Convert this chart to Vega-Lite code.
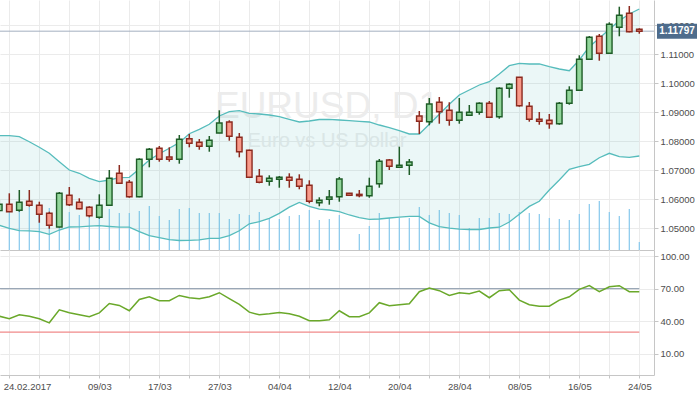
{
  "$schema": "https://vega.github.io/schema/vega-lite/v6.json",
  "background": "white",
  "padding": 0,
  "autosize": {"type": "pad"},
  "spacing": 0,
  "data": {"values": [
    {"d":"2017-02-23","o":1.0561,"h":1.0600,"l":1.0555,"c":1.0583,"v":76000,"up":1.08193,"lo":1.05103,"rsi":44.7},
    {"d":"2017-02-24","o":1.05828,"h":1.06207,"l":1.05560,"c":1.05572,"v":76000,"up":1.08193,"lo":1.05000,"rsi":42.3},
    {"d":"2017-02-27","o":1.05621,"h":1.06321,"l":1.05572,"c":1.05897,"v":80000,"up":1.08159,"lo":1.04917,"rsi":46.0},
    {"d":"2017-02-28","o":1.05931,"h":1.06321,"l":1.05745,"c":1.05793,"v":86000,"up":1.07986,"lo":1.04914,"rsi":44.7},
    {"d":"2017-03-01","o":1.05793,"h":1.05917,"l":1.05193,"c":1.05483,"v":80000,"up":1.07793,"lo":1.04883,"rsi":42.3},
    {"d":"2017-03-02","o":1.05517,"h":1.05572,"l":1.04986,"c":1.05103,"v":84000,"up":1.07586,"lo":1.04793,"rsi":38.6},
    {"d":"2017-03-03","o":1.05045,"h":1.06252,"l":1.05030,"c":1.06207,"v":80000,"up":1.07297,"lo":1.04941,"rsi":50.6},
    {"d":"2017-03-06","o":1.06138,"h":1.06424,"l":1.05769,"c":1.05814,"v":76000,"up":1.07010,"lo":1.05045,"rsi":47.8},
    {"d":"2017-03-07","o":1.05897,"h":1.06034,"l":1.05655,"c":1.05676,"v":70000,"up":1.06897,"lo":1.05052,"rsi":46.0},
    {"d":"2017-03-08","o":1.05724,"h":1.05760,"l":1.05379,"c":1.05434,"v":68000,"up":1.06724,"lo":1.05072,"rsi":44.2},
    {"d":"2017-03-09","o":1.05379,"h":1.06172,"l":1.05331,"c":1.05793,"v":80000,"up":1.06607,"lo":1.05090,"rsi":47.8},
    {"d":"2017-03-10","o":1.05793,"h":1.07010,"l":1.05770,"c":1.06724,"v":82000,"up":1.06666,"lo":1.05062,"rsi":56.4},
    {"d":"2017-03-13","o":1.06897,"h":1.07183,"l":1.06528,"c":1.06552,"v":74000,"up":1.06745,"lo":1.05038,"rsi":54.6},
    {"d":"2017-03-14","o":1.06586,"h":1.06666,"l":1.06055,"c":1.06090,"v":74000,"up":1.06759,"lo":1.05038,"rsi":49.7},
    {"d":"2017-03-15","o":1.06090,"h":1.07414,"l":1.06070,"c":1.07379,"v":78000,"up":1.07045,"lo":1.04883,"rsi":60.1},
    {"d":"2017-03-16","o":1.07379,"h":1.07769,"l":1.07103,"c":1.07724,"v":88000,"up":1.07355,"lo":1.04745,"rsi":62.6},
    {"d":"2017-03-17","o":1.07759,"h":1.07838,"l":1.07297,"c":1.07379,"v":68000,"up":1.07569,"lo":1.04679,"rsi":58.9},
    {"d":"2017-03-20","o":1.07459,"h":1.07793,"l":1.07297,"c":1.07379,"v":60000,"up":1.07759,"lo":1.04610,"rsi":58.9},
    {"d":"2017-03-21","o":1.07379,"h":1.08217,"l":1.07228,"c":1.08069,"v":82000,"up":1.07952,"lo":1.04579,"rsi":63.8},
    {"d":"2017-03-22","o":1.08090,"h":1.08252,"l":1.07793,"c":1.07931,"v":84000,"up":1.08262,"lo":1.04586,"rsi":61.7},
    {"d":"2017-03-23","o":1.07966,"h":1.08079,"l":1.07710,"c":1.07828,"v":74000,"up":1.08414,"lo":1.04603,"rsi":60.8},
    {"d":"2017-03-24","o":1.07828,"h":1.08183,"l":1.07641,"c":1.08034,"v":74000,"up":1.08586,"lo":1.04655,"rsi":62.6},
    {"d":"2017-03-27","o":1.08286,"h":1.09069,"l":1.08280,"c":1.08631,"v":74000,"up":1.08872,"lo":1.04655,"rsi":66.3},
    {"d":"2017-03-28","o":1.08666,"h":1.08724,"l":1.08021,"c":1.08172,"v":62000,"up":1.09021,"lo":1.04748,"rsi":60.8},
    {"d":"2017-03-29","o":1.08138,"h":1.08286,"l":1.07448,"c":1.07641,"v":72000,"up":1.09055,"lo":1.04914,"rsi":55.5},
    {"d":"2017-03-30","o":1.07690,"h":1.07710,"l":1.06740,"c":1.06759,"v":70000,"up":1.08966,"lo":1.05155,"rsi":48.4},
    {"d":"2017-03-31","o":1.06793,"h":1.07045,"l":1.06552,"c":1.06586,"v":76000,"up":1.08941,"lo":1.05228,"rsi":46.0},
    {"d":"2017-04-03","o":1.06621,"h":1.06828,"l":1.06469,"c":1.06724,"v":64000,"up":1.08907,"lo":1.05345,"rsi":46.9},
    {"d":"2017-04-04","o":1.06690,"h":1.06803,"l":1.06400,"c":1.06759,"v":62000,"up":1.08848,"lo":1.05517,"rsi":48.1},
    {"d":"2017-04-05","o":1.06759,"h":1.06897,"l":1.06400,"c":1.06655,"v":68000,"up":1.08759,"lo":1.05728,"rsi":46.9},
    {"d":"2017-04-06","o":1.06690,"h":1.06862,"l":1.06345,"c":1.06448,"v":70000,"up":1.08666,"lo":1.05890,"rsi":44.7},
    {"d":"2017-04-07","o":1.06483,"h":1.06655,"l":1.05862,"c":1.05931,"v":80000,"up":1.08700,"lo":1.05759,"rsi":40.5},
    {"d":"2017-04-10","o":1.05883,"h":1.06069,"l":1.05759,"c":1.05966,"v":60000,"up":1.08752,"lo":1.05659,"rsi":40.5},
    {"d":"2017-04-11","o":1.06000,"h":1.06321,"l":1.05814,"c":1.06079,"v":62000,"up":1.08759,"lo":1.05631,"rsi":41.4},
    {"d":"2017-04-12","o":1.06090,"h":1.06769,"l":1.05917,"c":1.06700,"v":70000,"up":1.08734,"lo":1.05572,"rsi":49.7},
    {"d":"2017-04-13","o":1.06207,"h":1.06220,"l":1.06120,"c":1.06138,"v":0,"up":1.08710,"lo":1.05459,"rsi":44.2},
    {"d":"2017-04-14","o":1.06172,"h":1.06321,"l":1.06069,"c":1.06124,"v":32000,"up":1.08690,"lo":1.05372,"rsi":44.2},
    {"d":"2017-04-17","o":1.06124,"h":1.06745,"l":1.06055,"c":1.06448,"v":48000,"up":1.08666,"lo":1.05310,"rsi":47.8},
    {"d":"2017-04-18","o":1.06538,"h":1.07390,"l":1.06400,"c":1.07310,"v":74000,"up":1.08562,"lo":1.05321,"rsi":57.1},
    {"d":"2017-04-19","o":1.07355,"h":1.07390,"l":1.07010,"c":1.07138,"v":64000,"up":1.08469,"lo":1.05355,"rsi":54.3},
    {"d":"2017-04-20","o":1.07103,"h":1.07814,"l":1.07100,"c":1.07172,"v":64000,"up":1.08366,"lo":1.05383,"rsi":55.2},
    {"d":"2017-04-21","o":1.07172,"h":1.07390,"l":1.06838,"c":1.07286,"v":64000,"up":1.08252,"lo":1.05410,"rsi":56.2},
    {"d":"2017-04-24","o":1.08872,"h":1.09045,"l":1.08252,"c":1.08690,"v":86000,"up":1.08252,"lo":1.05410,"rsi":67.2},
    {"d":"2017-04-25","o":1.08676,"h":1.09493,"l":1.08552,"c":1.09286,"v":70000,"up":1.08586,"lo":1.05190,"rsi":70.6},
    {"d":"2017-04-26","o":1.09345,"h":1.09528,"l":1.08607,"c":1.09021,"v":80000,"up":1.08931,"lo":1.05055,"rsi":68.2},
    {"d":"2017-04-27","o":1.09069,"h":1.09345,"l":1.08538,"c":1.08724,"v":74000,"up":1.09276,"lo":1.05003,"rsi":63.8},
    {"d":"2017-04-28","o":1.08724,"h":1.09493,"l":1.08607,"c":1.09000,"v":70000,"up":1.09597,"lo":1.04969,"rsi":66.3},
    {"d":"2017-05-01","o":1.08897,"h":1.09252,"l":1.08890,"c":1.09000,"v":44000,"up":1.09769,"lo":1.04959,"rsi":65.4},
    {"d":"2017-05-02","o":1.09000,"h":1.09345,"l":1.08917,"c":1.09310,"v":64000,"up":1.09941,"lo":1.04959,"rsi":67.8},
    {"d":"2017-05-03","o":1.09310,"h":1.09390,"l":1.08820,"c":1.08828,"v":64000,"up":1.10055,"lo":1.05010,"rsi":61.7},
    {"d":"2017-05-04","o":1.08848,"h":1.09862,"l":1.08779,"c":1.09828,"v":74000,"up":1.10321,"lo":1.05038,"rsi":68.2},
    {"d":"2017-05-05","o":1.09828,"h":1.10000,"l":1.09503,"c":1.09966,"v":72000,"up":1.10607,"lo":1.05217,"rsi":69.1},
    {"d":"2017-05-08","o":1.10207,"h":1.10210,"l":1.09193,"c":1.09228,"v":76000,"up":1.10690,"lo":1.05486,"rsi":59.5},
    {"d":"2017-05-09","o":1.09207,"h":1.09355,"l":1.08676,"c":1.08759,"v":74000,"up":1.10666,"lo":1.05755,"rsi":55.2},
    {"d":"2017-05-10","o":1.08759,"h":1.09010,"l":1.08572,"c":1.08690,"v":72000,"up":1.10666,"lo":1.05934,"rsi":53.9},
    {"d":"2017-05-11","o":1.08724,"h":1.08941,"l":1.08434,"c":1.08607,"v":64000,"up":1.10572,"lo":1.06321,"rsi":53.9},
    {"d":"2017-05-12","o":1.08607,"h":1.09355,"l":1.08572,"c":1.09310,"v":62000,"up":1.10493,"lo":1.06666,"rsi":59.5},
    {"d":"2017-05-15","o":1.09310,"h":1.09897,"l":1.09262,"c":1.09759,"v":60000,"up":1.10434,"lo":1.07034,"rsi":62.6},
    {"d":"2017-05-16","o":1.09759,"h":1.10966,"l":1.09750,"c":1.10828,"v":72000,"up":1.10803,"lo":1.07124,"rsi":69.4},
    {"d":"2017-05-17","o":1.10828,"h":1.11631,"l":1.10820,"c":1.11586,"v":92000,"up":1.11262,"lo":1.07207,"rsi":72.8},
    {"d":"2017-05-18","o":1.11621,"h":1.11700,"l":1.10779,"c":1.11034,"v":98000,"up":1.11552,"lo":1.07434,"rsi":67.2},
    {"d":"2017-05-19","o":1.11034,"h":1.12103,"l":1.11010,"c":1.12034,"v":76000,"up":1.11862,"lo":1.07586,"rsi":71.8},
    {"d":"2017-05-22","o":1.11931,"h":1.12641,"l":1.11621,"c":1.12345,"v":68000,"up":1.12159,"lo":1.07469,"rsi":72.8},
    {"d":"2017-05-23","o":1.12414,"h":1.12666,"l":1.11759,"c":1.11779,"v":82000,"up":1.12390,"lo":1.07448,"rsi":67.2},
    {"d":"2017-05-24","o":1.11862,"h":1.11897,"l":1.11710,"c":1.11797,"v":16000,"up":1.12562,"lo":1.07493,"rsi":67.2}
  ]},
  "transform": [{"window": [{"op": "row_number", "as": "i"}]}],
  "vconcat": [
    {
      "width": 654,
      "height": 250,
      "layer": [
        {
          "mark": {"type": "rule", "color": "#86c8ec", "strokeWidth": 1.2, "clip": true},
          "encoding": {
            "x": {"field": "i", "type": "quantitative", "scale": {"domain": [1.07, 66.47], "nice": false, "zero": false, "padding": 0},
              "axis": {"orient": "bottom", "values": [2,5,8,11,14,17,20,23,26,29,32,35,38,41,44,47,50,53,56,59,62,65], "labels": false, "ticks": false, "grid": true, "domain": true, "title": null}},
            "y": {"field": "v", "type": "quantitative", "scale": {"domain": [0, 500000], "nice": false, "zero": true, "padding": 0}, "axis": null},
            "y2": {"datum": 0}
          }
        },
        {
          "layer": [
            {
              "data": {"values": [{"wm": "EURUSD, D1"}]},
              "mark": {"type": "text", "font": "Liberation Sans", "fontSize": 37, "color": "#ececec", "align": "center", "baseline": "alphabetic"},
              "encoding": {
                "x": {"datum": 33.77, "type": "quantitative", "scale": {"domain": [1.07, 66.47], "nice": false, "zero": false, "padding": 0},
                  "axis": {"orient": "bottom", "values": [2,5,8,11,14,17,20,23,26,29,32,35,38,41,44,47,50,53,56,59,62,65], "labels": false, "ticks": false, "grid": true, "domain": true, "title": null}},
                "y": {"datum": 1.088, "type": "quantitative", "scale": {"domain": [1.04252, 1.12872], "nice": false, "zero": false, "padding": 0},
                  "axis": {"orient": "right", "values": [1.05,1.06,1.07,1.08,1.09,1.10,1.11,1.12], "format": ".5f", "tickSize": 4, "labelPadding": 2, "labelOverlap": false, "grid": true, "domain": true, "title": null}},
                "text": {"field": "wm"}
              }
            },
            {
              "data": {"values": [{"wm": "Euro vs US Dollar"}]},
              "mark": {"type": "text", "font": "Liberation Sans", "fontSize": 20, "color": "#ececec", "align": "center", "baseline": "alphabetic"},
              "encoding": {
                "x": {"datum": 33.77, "type": "quantitative", "scale": {"domain": [1.07, 66.47], "nice": false, "zero": false, "padding": 0},
                  "axis": {"orient": "bottom", "values": [2,5,8,11,14,17,20,23,26,29,32,35,38,41,44,47,50,53,56,59,62,65], "labels": false, "ticks": false, "grid": true, "domain": true, "title": null}},
                "y": {"datum": 1.07803, "type": "quantitative", "scale": {"domain": [1.04252, 1.12872], "nice": false, "zero": false, "padding": 0},
                  "axis": {"orient": "right", "values": [1.05,1.06,1.07,1.08,1.09,1.10,1.11,1.12], "format": ".5f", "tickSize": 4, "labelPadding": 2, "labelOverlap": false, "grid": true, "domain": true, "title": null}},
                "text": {"field": "wm"}
              }
            },
            {
              "mark": {"type": "area", "color": "#5bbcbc", "opacity": 0.12, "clip": true},
              "encoding": {
                "x": {"field": "i", "type": "quantitative", "scale": {"domain": [1.07, 66.47], "nice": false, "zero": false, "padding": 0},
                  "axis": {"orient": "bottom", "values": [2,5,8,11,14,17,20,23,26,29,32,35,38,41,44,47,50,53,56,59,62,65], "labels": false, "ticks": false, "grid": true, "domain": true, "title": null}},
                "y": {"field": "up", "type": "quantitative", "scale": {"domain": [1.04252, 1.12872], "nice": false, "zero": false, "padding": 0},
                  "axis": {"orient": "right", "values": [1.05,1.06,1.07,1.08,1.09,1.10,1.11,1.12], "format": ".5f", "tickSize": 4, "labelPadding": 2, "labelOverlap": false, "grid": true, "domain": true, "title": null}},
                "y2": {"field": "lo"}
              }
            },
            {
              "mark": {"type": "line", "color": "#56bcbc", "strokeWidth": 1.3, "clip": true},
              "encoding": {
                "x": {"field": "i", "type": "quantitative", "scale": {"domain": [1.07, 66.47], "nice": false, "zero": false, "padding": 0},
                  "axis": {"orient": "bottom", "values": [2,5,8,11,14,17,20,23,26,29,32,35,38,41,44,47,50,53,56,59,62,65], "labels": false, "ticks": false, "grid": true, "domain": true, "title": null}},
                "y": {"field": "up", "type": "quantitative", "scale": {"domain": [1.04252, 1.12872], "nice": false, "zero": false, "padding": 0},
                  "axis": {"orient": "right", "values": [1.05,1.06,1.07,1.08,1.09,1.10,1.11,1.12], "format": ".5f", "tickSize": 4, "labelPadding": 2, "labelOverlap": false, "grid": true, "domain": true, "title": null}}
              }
            },
            {
              "mark": {"type": "line", "color": "#56bcbc", "strokeWidth": 1.3, "clip": true},
              "encoding": {
                "x": {"field": "i", "type": "quantitative", "scale": {"domain": [1.07, 66.47], "nice": false, "zero": false, "padding": 0},
                  "axis": {"orient": "bottom", "values": [2,5,8,11,14,17,20,23,26,29,32,35,38,41,44,47,50,53,56,59,62,65], "labels": false, "ticks": false, "grid": true, "domain": true, "title": null}},
                "y": {"field": "lo", "type": "quantitative", "scale": {"domain": [1.04252, 1.12872], "nice": false, "zero": false, "padding": 0},
                  "axis": {"orient": "right", "values": [1.05,1.06,1.07,1.08,1.09,1.10,1.11,1.12], "format": ".5f", "tickSize": 4, "labelPadding": 2, "labelOverlap": false, "grid": true, "domain": true, "title": null}}
              }
            },
            {
              "data": {"values": [{"last": 1.11797}]},
              "mark": {"type": "rule", "color": "#a3b0c0", "strokeWidth": 1, "clip": true},
              "encoding": {
                "x": {"datum": 1.07, "type": "quantitative", "scale": {"domain": [1.07, 66.47], "nice": false, "zero": false, "padding": 0},
                  "axis": {"orient": "bottom", "values": [2,5,8,11,14,17,20,23,26,29,32,35,38,41,44,47,50,53,56,59,62,65], "labels": false, "ticks": false, "grid": true, "domain": true, "title": null}},
                "x2": {"datum": 66.47},
                "y": {"field": "last", "type": "quantitative", "scale": {"domain": [1.04252, 1.12872], "nice": false, "zero": false, "padding": 0},
                  "axis": {"orient": "right", "values": [1.05,1.06,1.07,1.08,1.09,1.10,1.11,1.12], "format": ".5f", "tickSize": 4, "labelPadding": 2, "labelOverlap": false, "grid": true, "domain": true, "title": null}}
              }
            },
            {
              "mark": {"type": "rule", "strokeWidth": 1.5, "clip": true},
              "encoding": {
                "x": {"field": "i", "type": "quantitative", "scale": {"domain": [1.07, 66.47], "nice": false, "zero": false, "padding": 0},
                  "axis": {"orient": "bottom", "values": [2,5,8,11,14,17,20,23,26,29,32,35,38,41,44,47,50,53,56,59,62,65], "labels": false, "ticks": false, "grid": true, "domain": true, "title": null}},
                "y": {"field": "l", "type": "quantitative", "scale": {"domain": [1.04252, 1.12872], "nice": false, "zero": false, "padding": 0},
                  "axis": {"orient": "right", "values": [1.05,1.06,1.07,1.08,1.09,1.10,1.11,1.12], "format": ".5f", "tickSize": 4, "labelPadding": 2, "labelOverlap": false, "grid": true, "domain": true, "title": null}},
                "y2": {"field": "h"},
                "color": {"condition": {"test": "datum.c >= datum.o", "value": "#1e5c27"}, "value": "#8c2a1f"}
              }
            },
            {
              "mark": {"type": "bar", "orient": "vertical", "size": 5.5, "strokeWidth": 1.4, "clip": true},
              "encoding": {
                "x": {"field": "i", "type": "quantitative", "scale": {"domain": [1.07, 66.47], "nice": false, "zero": false, "padding": 0},
                  "axis": {"orient": "bottom", "values": [2,5,8,11,14,17,20,23,26,29,32,35,38,41,44,47,50,53,56,59,62,65], "labels": false, "ticks": false, "grid": true, "domain": true, "title": null}},
                "y": {"field": "o", "type": "quantitative", "scale": {"domain": [1.04252, 1.12872], "nice": false, "zero": false, "padding": 0},
                  "axis": {"orient": "right", "values": [1.05,1.06,1.07,1.08,1.09,1.10,1.11,1.12], "format": ".5f", "tickSize": 4, "labelPadding": 2, "labelOverlap": false, "grid": true, "domain": true, "title": null}},
                "y2": {"field": "c"},
                "fill": {"condition": {"test": "datum.c >= datum.o", "value": "#92d69b"}, "value": "#f89a8a"},
                "stroke": {"condition": {"test": "datum.c >= datum.o", "value": "#1e5c27"}, "value": "#8c2a1f"}
              }
            },
            {
              "data": {"values": [{"last": 1.11797}]},
              "mark": {"type": "bar", "orient": "horizontal", "size": 15, "color": "#4e6c8c", "clip": false},
              "encoding": {
                "x": {"datum": 66.77, "type": "quantitative", "scale": {"domain": [1.07, 66.47], "nice": false, "zero": false, "padding": 0},
                  "axis": {"orient": "bottom", "values": [2,5,8,11,14,17,20,23,26,29,32,35,38,41,44,47,50,53,56,59,62,65], "labels": false, "ticks": false, "grid": true, "domain": true, "title": null}},
                "x2": {"datum": 70.77},
                "y": {"field": "last", "type": "quantitative", "scale": {"domain": [1.04252, 1.12872], "nice": false, "zero": false, "padding": 0},
                  "axis": {"orient": "right", "values": [1.05,1.06,1.07,1.08,1.09,1.10,1.11,1.12], "format": ".5f", "tickSize": 4, "labelPadding": 2, "labelOverlap": false, "grid": true, "domain": true, "title": null}}
              }
            },
            {
              "data": {"values": [{"last": 1.11797}]},
              "mark": {"type": "text", "font": "Liberation Sans", "fontSize": 10, "fontWeight": "bold", "color": "white", "align": "center", "baseline": "middle", "clip": false},
              "encoding": {
                "x": {"datum": 68.77, "type": "quantitative", "scale": {"domain": [1.07, 66.47], "nice": false, "zero": false, "padding": 0},
                  "axis": {"orient": "bottom", "values": [2,5,8,11,14,17,20,23,26,29,32,35,38,41,44,47,50,53,56,59,62,65], "labels": false, "ticks": false, "grid": true, "domain": true, "title": null}},
                "y": {"field": "last", "type": "quantitative", "scale": {"domain": [1.04252, 1.12872], "nice": false, "zero": false, "padding": 0},
                  "axis": {"orient": "right", "values": [1.05,1.06,1.07,1.08,1.09,1.10,1.11,1.12], "format": ".5f", "tickSize": 4, "labelPadding": 2, "labelOverlap": false, "grid": true, "domain": true, "title": null}},
                "text": {"field": "last", "type": "quantitative", "format": ".5f"}
              }
            }
          ]
        }
      ],
      "resolve": {"scale": {"y": "independent"}, "axis": {"y": "independent"}}
    },
    {
      "width": 654,
      "height": 125,
      "layer": [
        {
          "data": {"values": [{"lvl": 70}, {"lvl": 30}]},
          "mark": {"type": "rule", "strokeWidth": 1.2, "clip": true},
          "encoding": {
            "x": {"datum": 1, "type": "quantitative", "scale": {"domain": [1.07, 66.47], "nice": false, "zero": false, "padding": 0},
              "axis": {"orient": "bottom", "values": [2,5,8,11,14,17,20,23,26,29,32,35,38,41,44,47,50,53,56,59,62,65], "grid": true, "domain": true, "ticks": true, "tickSize": 3, "labelPadding": 3, "labelOverlap": false, "labelFlush": false, "title": null,
                "labelExpr": "indexof([2,11,17,23,29,35,41,47,53,59,65], datum.value) >= 0 ? ['24.02.2017','09/03','17/03','27/03','04/04','12/04','20/04','28/04','08/05','16/05','24/05'][indexof([2,11,17,23,29,35,41,47,53,59,65], datum.value)] : ''",
                "labelAlign": {"condition": {"test": "datum.value == 2", "value": "left"}, "value": "center"},
                "labelOffset": {"condition": {"test": "datum.value == 2", "value": -6}, "value": 0}}},
            "x2": {"datum": 65},
            "y": {"field": "lvl", "type": "quantitative", "scale": {"domain": [-9.4, 105.6], "nice": false, "zero": false, "padding": 0},
              "axis": {"orient": "right", "values": [10, 40, 70, 100], "format": ".2f", "tickSize": 4, "labelPadding": 2, "labelOverlap": false, "grid": true, "domain": true, "title": null}},
            "color": {"condition": {"test": "datum.lvl > 50", "value": "#9aa7b6"}, "value": "#f08a8a"}
          }
        },
        {
          "mark": {"type": "line", "color": "#6aa82a", "strokeWidth": 1.5, "clip": true},
          "encoding": {
            "x": {"field": "i", "type": "quantitative", "scale": {"domain": [1.07, 66.47], "nice": false, "zero": false, "padding": 0},
              "axis": {"orient": "bottom", "values": [2,5,8,11,14,17,20,23,26,29,32,35,38,41,44,47,50,53,56,59,62,65], "grid": true, "domain": true, "ticks": true, "tickSize": 3, "labelPadding": 3, "labelOverlap": false, "labelFlush": false, "title": null,
                "labelExpr": "indexof([2,11,17,23,29,35,41,47,53,59,65], datum.value) >= 0 ? ['24.02.2017','09/03','17/03','27/03','04/04','12/04','20/04','28/04','08/05','16/05','24/05'][indexof([2,11,17,23,29,35,41,47,53,59,65], datum.value)] : ''",
                "labelAlign": {"condition": {"test": "datum.value == 2", "value": "left"}, "value": "center"},
                "labelOffset": {"condition": {"test": "datum.value == 2", "value": -6}, "value": 0}}},
            "y": {"field": "rsi", "type": "quantitative", "scale": {"domain": [-9.4, 105.6], "nice": false, "zero": false, "padding": 0},
              "axis": {"orient": "right", "values": [10, 40, 70, 100], "format": ".2f", "tickSize": 4, "labelPadding": 2, "labelOverlap": false, "grid": true, "domain": true, "title": null}}
          }
        }
      ]
    }
  ],
  "config": {
    "view": {"stroke": null},
    "font": "Liberation Sans",
    "axis": {
      "labelFont": "Liberation Sans",
      "labelFontSize": 9.5,
      "labelColor": "#4d4d4d",
      "labelOverlap": false,
      "domainColor": "#c6c6c6",
      "tickColor": "#c6c6c6",
      "gridColor": "#ebebeb",
      "gridWidth": 1,
      "domainWidth": 1
    }
  }
}
